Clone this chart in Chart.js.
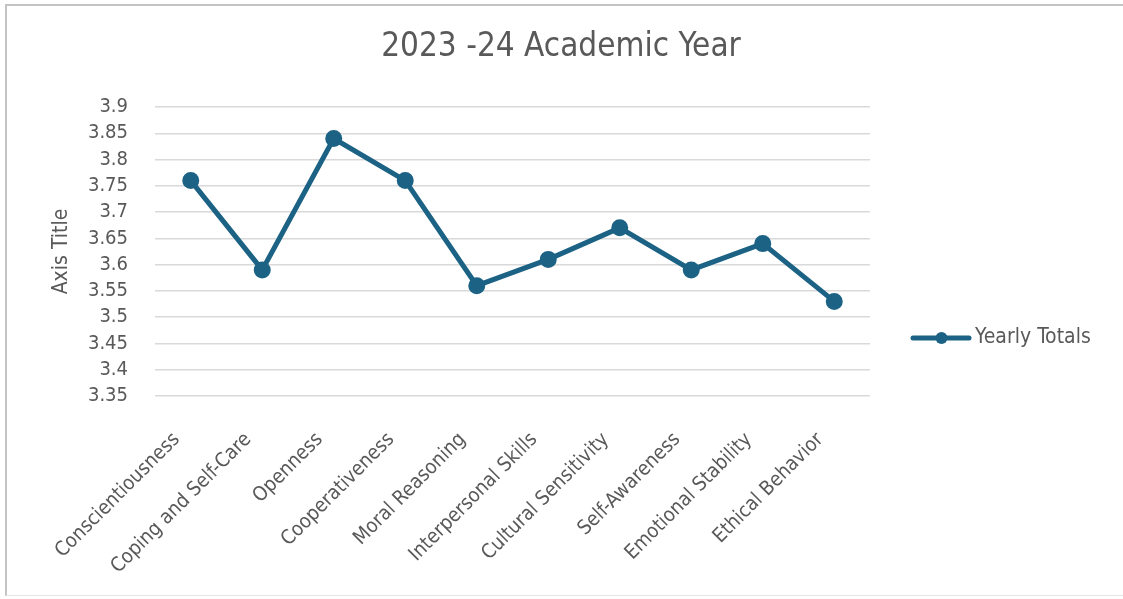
<!DOCTYPE html>
<html>
<head>
<meta charset="utf-8">
<script src="https://cdn.jsdelivr.net/npm/chart.js@4"></script>
<style>
  html, body { margin: 0; padding: 0; background: #fff; }
  body { width: 1123px; height: 599px; overflow: hidden; position: relative; }
  #frame { position: absolute; left: 5px; top: 4px; width: 1130px; height: 592px;
           border-left: 2px solid #c4c4c4; border-top: 2px solid #c4c4c4; border-bottom: 1px solid #e6e6e6; box-sizing: border-box; }
  #wrap { position: absolute; left: 0; top: 0; width: 1123px; height: 599px; }
</style>
</head>
<body>
<div id="frame"></div>
<div id="wrap"><canvas id="c" width="1123" height="599"></canvas></div>
<script>
const chartTitle = "2023 -24 Academic Year";
const axisTitle = "Axis Title";
const seriesName = "Yearly Totals";
const categories = ["Conscientiousness", "Coping and Self-Care", "Openness", "Cooperativeness",
  "Moral Reasoning", "Interpersonal Skills", "Cultural Sensitivity", "Self-Awareness",
  "Emotional Stability", "Ethical Behavior"];
const yearlyTotals = [3.76, 3.59, 3.84, 3.76, 3.56, 3.61, 3.67, 3.59, 3.64, 3.53];
const yTicks = [3.35, 3.4, 3.45, 3.5, 3.55, 3.6, 3.65, 3.7, 3.75, 3.8, 3.85, 3.9];

const FONT = "'Liberation Sans Narrow', 'Arial Narrow', 'DejaVu Sans Condensed', sans-serif";
const TEXT = '#595959';
const LINE = '#1c6285';

const decorPlugin = {
  id: 'decor',
  afterDraw(chart) {
    const ctx = chart.ctx;
    const ds = chart.data.datasets[0];
    ctx.save();
    // chart title, centred on the whole chart frame
    ctx.fillStyle = TEXT;
    ctx.font = "33px " + FONT;
    ctx.textAlign = 'center';
    ctx.textBaseline = 'middle';
    ctx.fillText(chartTitle, 561, 47);
    // legend on the right
    const y = 338;
    ctx.strokeStyle = ds.borderColor;
    ctx.lineWidth = 5;
    ctx.lineCap = 'round';
    ctx.beginPath(); ctx.moveTo(913, y); ctx.lineTo(969, y); ctx.stroke();
    ctx.fillStyle = ds.pointBackgroundColor;
    ctx.beginPath(); ctx.arc(941.5, y, 6, 0, Math.PI * 2); ctx.fill();
    ctx.fillStyle = TEXT;
    ctx.font = "21px " + FONT;
    ctx.textAlign = 'left';
    ctx.fillText(ds.label, 975, y);
    ctx.restore();
  }
};

new Chart(document.getElementById('c'), {
  type: 'line',
  data: {
    labels: categories,
    datasets: [{
      label: seriesName,
      data: yearlyTotals,
      borderColor: LINE,
      backgroundColor: LINE,
      pointBackgroundColor: LINE,
      pointBorderColor: LINE,
      borderWidth: 5,
      pointRadius: 6,
      pointHoverRadius: 6,
      tension: 0,
      fill: false
    }]
  },
  options: {
    responsive: false,
    animation: false,
    devicePixelRatio: 1,
    layout: { padding: { top: 107, left: 0, right: 253, bottom: 0 } },
    plugins: {
      legend: { display: false },
      tooltip: { enabled: false },
      title: { display: false }
    },
    scales: {
      x: {
        offset: true,
        grid: { display: false, drawTicks: false },
        border: { display: false },
        ticks: {
          minRotation: 45, maxRotation: 45,
          autoSkip: false,
          padding: 32,
          labelOffset: -14,
          color: TEXT,
          font: { family: FONT, size: 20 }
        },
        afterFit(scale) { scale.height = 203; }
      },
      y: {
        min: 3.35, max: 3.9,
        grid: { color: '#d9d9d9', lineWidth: 1.5, drawTicks: false },
        border: { display: false },
        afterBuildTicks(scale) { scale.ticks = yTicks.map(v => ({ value: v })); },
        ticks: {
          autoSkip: false,
          padding: 27,
          color: TEXT,
          font: { family: FONT, size: 20 },
          callback: v => String(Number(v.toFixed(2)))
        },
        title: {
          display: true,
          text: axisTitle,
          color: TEXT,
          font: { family: FONT, size: 21 },
          padding: { top: 49, bottom: 0 }
        },
        afterFit(scale) { scale.width = 155; }
      }
    }
  },
  plugins: [decorPlugin]
});
</script>
</body>
</html>
